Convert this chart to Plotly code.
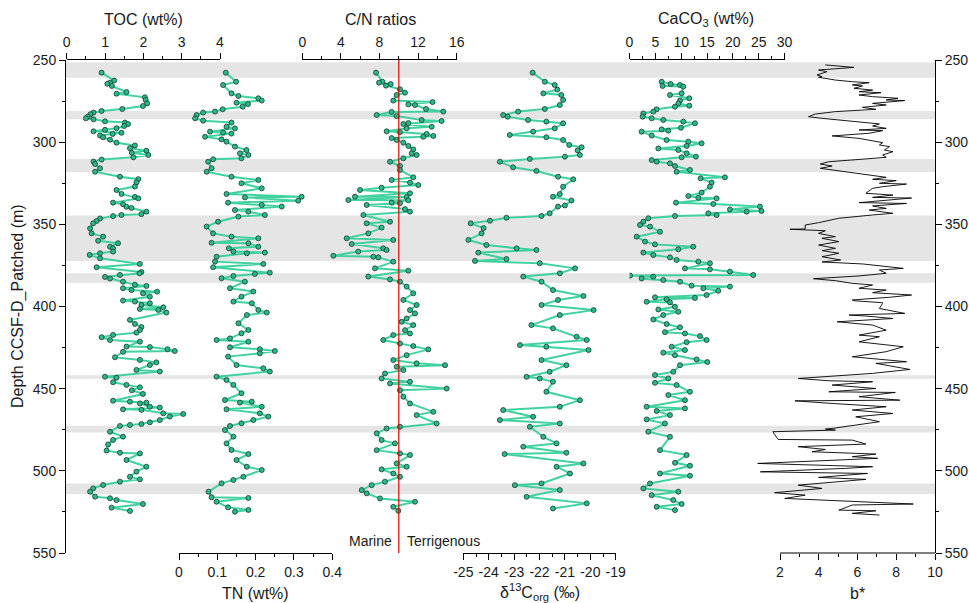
import numpy as np
import plotly.graph_objects as go

# ---------------- DATA ----------------
toc_depth = [257.7,262.5,263.8,264.5,265.8,269.5,270.5,272.7,274.3,276.4,278.0,279.8,281.0,282.0,283.0,284.5,285.5,286.1,287.3,288.1,289.0,290.2,291.5,292.5,293.4,294.3,295.0,296.0,297.0,298.5,300.3,302.0,303.7,305.2,306.5,307.8,309.2,310.6,311.8,313.3,315.9,318.0,321.0,322.5,324.5,327.0,329.1,331.5,333.3,334.2,336.8,337.8,339.3,340.0,342.3,343.8,344.3,345.0,346.4,348.0,349.4,352.5,355.5,357.5,360.0,361.5,363.6,364.6,366.6,367.6,368.6,370.7,374.1,376.1,379.0,379.8,380.8,382.0,383.0,384.9,386.7,387.5,388.9,390.0,391.0,392.0,394.0,396.4,397.0,398.0,399.1,400.5,401.5,402.1,403.7,408.2,410.6,412.5,414.3,415.9,417.3,418.7,420.4,421.4,424.4,424.7,426.0,427.1,427.6,430.9,432.5,434.0,435.6,438.6,439.6,442.7,443.3,446.1,447.7,449.2,451.0,453.2,457.3,457.9,458.5,459.0,461.0,461.5,462.6,462.9,465.0,465.4,467.0,469.1,470.5,471.5,472.1,472.7,476.2,479.2,481.2,483.9,487.7,489.0,489.4,493.4,497.5,500.5,503.6,505.2,506.6,508.6,510.7,512.7,515.7,516.7,517.8,520.2,522.4,524.4]
toc = [0.91,1.24,1.13,1.06,1.18,1.56,1.30,2.04,2.06,2.10,1.99,1.45,0.91,0.70,0.62,0.55,0.50,0.70,1.00,1.52,1.60,1.50,1.30,1.00,0.70,1.43,1.20,0.87,0.95,1.13,1.30,1.78,1.65,2.08,1.70,2.13,1.74,0.91,0.70,0.74,0.87,0.74,1.39,1.87,1.82,1.78,1.30,1.43,1.78,1.87,1.21,1.47,1.56,1.69,2.08,1.95,1.43,1.21,0.87,0.78,0.69,0.61,0.65,0.95,0.82,1.34,1.13,1.21,1.21,0.87,0.60,0.87,1.91,0.78,1.95,1.90,1.39,1.00,1.13,1.47,1.78,2.08,1.47,1.69,2.36,1.99,2.17,1.47,1.78,2.17,1.95,2.52,1.91,2.39,2.60,1.65,1.78,1.95,1.91,1.82,1.21,0.91,1.13,1.91,1.56,2.17,2.63,2.82,1.47,1.26,1.91,2.34,2.17,1.82,2.43,1.00,1.30,1.21,1.56,1.91,1.70,1.99,1.21,1.65,2.08,1.91,2.17,2.43,1.47,1.95,2.52,3.04,2.69,2.43,2.17,1.95,1.65,1.39,1.13,1.47,1.21,1.08,1.04,1.39,1.91,1.56,2.08,1.82,1.65,1.91,1.39,0.95,0.69,0.61,0.74,1.13,1.30,1.99,1.17,1.65]

tn_depth = [257.7,263.2,265.2,270.3,271.9,273.3,274.7,276.0,276.8,278.4,280.0,281.4,282.0,283.5,285.5,286.9,288.1,290.6,291.6,293.6,294.2,294.8,296.7,298.3,299.7,302.7,304.8,306.8,307.8,309.8,310.4,311.9,315.9,318.0,321.0,323.0,325.0,328.1,331.5,333.2,333.6,335.6,336.8,338.2,339.2,341.3,342.3,344.3,345.3,348.4,351.4,355.5,357.5,358.5,361.2,361.5,363.6,364.6,366.6,367.2,367.6,369.7,372.7,374.1,376.1,379.4,380.2,381.4,382.8,384.9,388.9,390.9,394.0,397.0,398.0,402.1,403.7,405.2,410.2,414.3,416.3,419.4,420.4,421.4,424.8,426.0,427.1,428.5,430.5,435.6,437.6,439.6,442.7,444.7,447.7,452.8,456.9,457.9,458.5,461.0,462.6,465.0,467.0,469.1,471.1,472.7,475.2,479.2,483.3,487.3,489.8,493.4,497.5,499.5,503.6,505.6,507.6,512.7,516.1,516.5,518.8,522.2,523.8,524.9]
tn = [0.122,0.149,0.115,0.137,0.155,0.207,0.216,0.150,0.180,0.166,0.114,0.094,0.063,0.046,0.042,0.063,0.137,0.124,0.146,0.081,0.115,0.137,0.068,0.111,0.124,0.146,0.176,0.159,0.181,0.163,0.089,0.076,0.085,0.072,0.137,0.207,0.163,0.216,0.124,0.320,0.172,0.311,0.128,0.216,0.268,0.146,0.181,0.224,0.155,0.102,0.072,0.089,0.137,0.207,0.085,0.181,0.207,0.130,0.142,0.224,0.177,0.098,0.094,0.220,0.089,0.237,0.198,0.142,0.111,0.172,0.133,0.194,0.163,0.142,0.190,0.207,0.229,0.177,0.155,0.181,0.163,0.133,0.098,0.181,0.133,0.211,0.250,0.211,0.128,0.150,0.220,0.237,0.098,0.124,0.142,0.163,0.120,0.190,0.159,0.216,0.124,0.211,0.233,0.194,0.163,0.133,0.120,0.142,0.124,0.137,0.181,0.150,0.177,0.216,0.168,0.142,0.111,0.077,0.085,0.181,0.098,0.128,0.181,0.146]

cn_depth = [257.7,263.2,263.8,264.6,265.6,267.8,269.9,271.3,274.7,275.6,277.0,277.4,279.8,281.4,281.6,283.5,284.1,286.5,287.1,288.4,288.9,290.6,291.6,293.4,293.9,295.0,296.2,296.7,297.5,298.7,300.3,302.3,304.4,306.8,307.8,309.8,311.9,314.5,316.9,321.4,323.0,324.6,326.1,327.7,329.1,331.1,333.2,333.4,335.2,335.4,336.8,337.2,338.2,340.7,342.3,344.3,348.4,349.4,352.0,355.5,358.5,359.5,362.0,364.6,365.6,366.6,369.1,369.7,370.1,372.7,376.8,378.2,381.8,383.5,384.9,387.9,392.0,396.0,399.1,402.2,404.2,407.3,409.3,411.3,414.4,416.4,417.4,420.4,422.5,424.1,426.1,429.6,432.6,434.6,435.7,436.7,438.7,440.7,443.8,445.8,446.8,449.9,450.9,454.9,459.0,464.1,466.1,471.2,473.2,474.2,477.2,481.3,483.3,487.4,489.4,490.4,495.5,497.5,499.1,501.6,503.6,506.6,508.7,511.7,513.7,516.8,518.8,521.9,524.3]
cn = [7.64,8.30,7.95,9.16,8.67,10.12,10.64,9.78,9.43,13.50,10.99,11.68,12.82,14.61,9.26,7.71,9.78,12.37,14.44,10.99,10.47,13.41,10.81,8.74,10.12,12.89,13.58,12.54,9.26,9.78,10.47,10.99,11.50,11.33,11.85,10.47,9.09,10.12,10.12,11.50,9.26,11.16,12.02,8.22,5.98,11.16,5.46,10.81,4.77,10.99,9.26,10.12,6.67,10.64,11.16,6.33,9.09,6.67,8.22,6.84,4.60,9.43,5.12,8.39,8.74,5.80,3.22,7.36,7.88,9.43,7.53,10.99,6.84,9.09,10.12,10.81,11.50,10.47,11.85,11.16,11.68,10.81,10.30,11.50,10.64,11.16,9.43,8.39,10.12,11.50,13.06,10.81,9.43,11.85,14.79,9.78,10.47,8.57,8.22,11.16,9.09,14.96,10.12,10.47,11.16,13.58,11.85,13.92,10.12,8.74,7.71,8.22,9.60,7.71,10.12,11.16,9.78,10.81,8.22,9.43,10.12,8.57,7.19,6.16,6.67,8.05,11.68,9.43,9.95]

d13c_depth = [257.7,263.2,265.2,268.0,270.3,271.3,274.3,277.4,279.8,281.4,283.5,284.5,286.5,287.5,288.5,291.6,293.6,295.6,297.0,298.7,301.7,303.1,305.0,307.8,308.8,310.2,311.9,315.3,317.5,321.0,322.6,327.1,331.6,333.2,335.5,338.5,339.2,343.3,344.9,346.0,347.8,349.4,352.3,355.5,359.5,362.6,364.6,365.6,367.2,371.1,372.3,373.7,376.8,379.8,381.8,384.9,390.0,393.6,396.0,399.1,402.2,405.2,411.3,413.3,418.4,420.4,423.5,424.5,426.5,432.6,435.7,439.7,442.8,443.8,445.8,451.9,457.0,461.0,463.0,467.1,469.1,471.2,473.2,479.3,483.3,485.3,489.0,489.8,495.5,497.5,501.6,507.7,508.7,511.7,515.8,519.8,522.9]
d13c = [-22.27,-21.79,-21.40,-21.30,-21.85,-21.14,-21.07,-21.20,-21.79,-22.84,-23.43,-23.25,-22.45,-21.73,-21.07,-21.40,-22.25,-23.17,-21.73,-21.07,-20.83,-20.34,-20.50,-20.41,-21.00,-22.38,-23.56,-23.04,-22.12,-21.27,-20.67,-21.07,-21.20,-21.47,-20.74,-21.00,-21.27,-21.60,-21.92,-23.30,-23.95,-24.71,-24.20,-24.28,-24.80,-24.09,-22.90,-22.12,-24.41,-23.30,-24.54,-21.99,-20.60,-21.20,-22.64,-21.92,-21.47,-20.27,-21.27,-21.92,-19.87,-21.20,-22.32,-21.47,-20.54,-20.14,-22.77,-21.73,-20.07,-21.92,-20.94,-21.60,-22.51,-21.99,-21.47,-21.73,-20.41,-21.20,-23.43,-22.25,-23.56,-21.20,-22.38,-21.85,-21.33,-22.64,-20.94,-23.37,-20.27,-21.33,-20.80,-21.92,-22.97,-21.20,-22.51,-20.14,-21.47]

caco3_depth = [263.2,264.6,265.2,265.8,266.2,270.3,271.3,273.3,274.7,276.4,277.8,278.4,280.0,281.4,282.5,284.5,285.5,286.5,287.5,288.5,291.2,292.2,293.0,293.6,296.0,298.7,299.7,300.7,302.3,303.8,304.8,306.8,308.8,309.2,310.9,311.9,312.9,314.5,316.9,318.0,321.4,322.0,324.6,327.1,330.7,332.8,333.8,334.2,336.8,337.6,339.2,340.9,341.9,342.3,343.3,344.3,344.9,346.3,348.4,350.4,351.4,354.5,357.5,360.5,362.2,363.6,365.2,367.2,368.7,370.1,371.7,372.7,373.7,376.8,377.4,378.8,380.8,381.2,381.8,382.9,383.9,384.9,387.3,387.9,388.9,390.4,393.0,394.4,394.8,395.6,397.1,397.5,400.2,401.8,403.2,405.2,407.9,410.7,412.7,415.6,416.4,418.0,420.4,421.7,424.5,426.5,428.1,429.6,432.2,433.8,435.7,439.7,441.7,443.8,446.4,447.8,451.9,453.9,457.0,461.0,462.0,463.6,466.1,468.7,471.2,476.2,479.3,487.4,490.4,495.1,496.9,501.6,503.0,507.7,510.7,512.7,514.8,517.8,520.2,521.9,523.9]
caco3 = [6.22,7.96,9.77,6.41,10.41,10.09,7.83,11.57,9.77,9.45,11.57,8.80,5.25,4.61,2.68,2.55,4.29,6.54,10.41,12.67,9.96,6.22,7.51,2.35,4.29,7.19,11.38,13.96,11.06,5.58,9.45,11.06,12.86,10.09,4.29,5.25,7.83,8.80,11.70,9.12,18.47,13.77,15.89,15.57,13.96,11.38,13.32,16.86,8.99,16.22,25.24,19.44,25.56,22.66,15.25,16.86,8.80,3.64,2.68,2.03,3.96,5.90,1.39,3.00,4.93,12.34,9.45,2.68,4.61,7.83,9.12,13.32,15.57,10.73,15.57,19.44,23.95,0.10,4.61,2.35,6.54,9.77,12.02,19.44,14.29,17.18,14.93,4.93,12.67,7.19,3.32,7.83,8.80,5.58,9.45,6.54,4.61,7.19,9.77,6.86,10.73,13.64,14.93,11.06,8.16,10.73,6.54,8.80,12.99,15.06,9.77,8.48,4.93,7.51,4.93,9.12,11.70,7.51,10.73,3.32,10.73,5.25,7.83,3.32,6.86,3.64,7.83,5.90,11.06,8.80,11.70,5.90,11.70,3.96,2.68,9.45,4.29,8.48,10.09,5.25,8.80]

bstar_depth = [253.0,254.5,256.1,257.1,259.1,260.1,260.5,262.2,263.2,263.8,265.2,265.8,267.2,268.3,269.3,269.9,271.3,272.3,273.3,274.3,274.7,276.4,277.4,278.8,280.0,281.4,282.9,284.5,285.5,287.5,288.9,290.2,291.6,292.6,293.0,294.6,296.2,297.7,300.3,301.7,302.7,304.8,305.8,307.8,309.2,310.2,310.9,311.9,313.3,314.5,315.9,316.9,318.4,319.6,321.4,322.6,323.4,325.0,325.5,327.1,328.1,331.1,332.2,333.6,334.0,336.8,337.3,338.8,340.3,341.3,343.3,344.3,346.3,349.0,350.4,352.8,353.0,353.9,355.5,357.5,358.5,360.5,362.6,364.6,366.0,367.6,369.7,371.7,372.9,374.1,376.8,377.8,379.8,381.4,383.1,384.3,385.9,386.9,388.9,390.0,391.6,393.0,394.4,396.0,396.5,397.7,398.1,401.2,404.2,405.2,405.8,407.3,409.3,411.3,414.4,417.4,418.4,421.5,424.5,427.5,430.6,433.6,434.6,438.3,440.7,443.8,445.2,445.8,447.8,449.9,451.9,452.3,454.9,457.0,457.4,459.0,461.0,463.0,465.1,467.1,470.1,474.2,474.6,475.2,476.2,480.9,481.3,483.7,485.3,487.0,488.4,489.8,491.4,492.4,495.5,497.5,498.5,500.6,501.6,504.0,505.2,508.7,510.7,513.3,514.8,516.8,520.2,520.8,523.9,524.3,525.9,526.9]
bstar = [4.34,5.82,3.99,4.43,3.91,4.17,3.99,4.86,5.73,6.60,5.73,6.26,5.82,6.78,6.08,7.21,6.08,6.78,8.09,7.48,8.44,6.78,7.48,6.26,6.95,4.86,3.82,3.47,4.17,5.73,7.13,6.78,7.48,6.08,7.30,6.60,4.69,6.08,7.30,7.13,7.65,7.39,7.83,7.30,7.48,6.43,5.39,4.52,4.08,4.69,4.08,4.69,5.56,6.43,7.48,6.78,8.00,7.13,8.53,7.30,6.78,6.43,7.83,6.78,8.79,6.08,8.53,6.78,7.48,6.60,7.83,6.78,5.04,3.99,3.30,3.30,2.51,4.34,3.99,4.86,4.17,5.04,3.99,4.86,4.17,5.04,4.17,5.13,4.17,6.26,8.36,7.13,7.48,6.08,3.73,4.86,5.73,6.78,6.08,7.48,6.78,8.79,7.65,5.73,5.82,7.30,7.30,7.13,8.44,5.56,6.43,7.83,4.95,6.78,7.48,6.08,7.13,6.08,8.36,7.48,5.73,8.53,6.95,8.70,6.78,2.94,4.52,6.78,4.69,6.95,4.52,7.95,6.08,8.18,2.77,4.69,7.48,5.73,7.83,5.91,7.13,4.69,4.34,4.86,1.63,1.90,5.73,6.43,2.94,4.34,3.65,6.95,5.73,7.04,0.85,6.78,5.39,0.99,6.52,3.99,6.43,2.94,4.17,1.72,3.30,2.25,8.88,5.73,5.04,6.95,5.73,7.13]

band_tops = [251.4, 281.0, 310.3, 344.7, 379.8, 441.9, 472.6, 507.7]
band_bottoms = [260.8, 286.0, 318.2, 372.3, 385.5, 444.0, 476.6, 514.2]

toc_ticks = [0, 1, 2, 3, 4]
tn_ticks = [0, 0.1, 0.2, 0.3, 0.4]
tn_labels = ["0", "0.1", "0.2", "0.3", "0.4"]
cn_ticks = [0, 4, 8, 12, 16]
d13c_ticks = [-25, -24, -23, -22, -21, -20, -19]
d13c_labels = ["-25", "-24", "-23", "-22", "-21", "-20", "-19"]
caco3_ticks = [0, 5, 10, 15, 20, 25, 30]
bstar_ticks = [2, 4, 6, 8, 10]
depth_ticks = [250, 300, 350, 400, 450, 500, 550]

# ---------------- LAYOUT HELPERS ----------------
L, R, T, B = 65, 935, 60, 553
W, H = R - L, B - T
def px(x):
    return (x - L) / W
def py(y):
    return (B - y) / H

FONT = "Liberation Sans, Arial, Helvetica, sans-serif"
TXT = "#1a1a1a"
TICK_SIZE = 14
TITLE_SIZE = 16

def srt(d, v):
    idx = np.argsort(d, kind="stable")
    return list(np.asarray(d)[idx]), list(np.asarray(v)[idx])

fig = go.Figure()

for a, b in zip(band_tops, band_bottoms):
    fig.add_shape(type="rect", xref="paper", yref="y", x0=0.001, x1=1, y0=a, y1=b,
                  fillcolor="#e5e5e5", line_width=0, layer="below")

geo_line = dict(color="rgba(45,205,150,0.9)", width=2)
geo_marker = dict(symbol="circle", size=5, color="#2bb98a",
                  line=dict(color="#163a2d", width=0.8))

series = [
    (toc_depth, toc, "x"),
    (tn_depth, tn, "x2"),
    (cn_depth, cn, "x3"),
    (d13c_depth, d13c, "x4"),
    (caco3_depth, caco3, "x5"),
]
for d, v, xa in series:
    dd, vv = srt(d, v)
    fig.add_trace(go.Scatter(x=vv, y=dd, xaxis=xa, yaxis="y", mode="lines+markers",
                             line=geo_line, marker=geo_marker, showlegend=False,
                             hoverinfo="skip"))

bd, bv = srt(bstar_depth, bstar)
fig.add_trace(go.Scatter(x=bv, y=bd, xaxis="x6", yaxis="y", mode="lines",
                         line=dict(color="black", width=0.9), showlegend=False,
                         hoverinfo="skip"))
# anchor trace for the right depth axis
fig.add_trace(go.Scatter(x=[6], y=[400], xaxis="x6", yaxis="y2", mode="markers",
                         marker=dict(opacity=0), showlegend=False, hoverinfo="skip"))

def xax(dom, rng, side, tickvals, ticktext, minor_dtick, showline=True, minor_vals=None):
    ax = dict(domain=[px(dom[0]), px(dom[1])], range=rng, side=side, anchor="y",
              automargin=False,
              showgrid=False, zeroline=False, showline=showline, linecolor="black",
              linewidth=1, ticks="outside", ticklen=6, tickwidth=1, tickcolor="black",
              tickmode="array", tickvals=tickvals, ticktext=ticktext,
              tickfont=dict(family=FONT, size=TICK_SIZE, color=TXT), fixedrange=True)
    if minor_vals is not None:
        ax["minor"] = dict(ticks="outside", ticklen=3, tickcolor="black", tickwidth=1,
                           tickmode="array", tickvals=minor_vals)
    else:
        ax["minor"] = dict(ticks="outside", ticklen=3, tickcolor="black", tickwidth=1,
                           dtick=minor_dtick, tick0=rng[0])
    return ax

yax = dict(domain=[0, 1], range=[550, 250], showgrid=False, zeroline=False,
           automargin=False,
           showline=True, linecolor="black", linewidth=1, ticks="outside", ticklen=6,
           tickcolor="black", tickvals=depth_ticks,
           tickfont=dict(family=FONT, size=TICK_SIZE, color=TXT),
           minor=dict(ticks="outside", ticklen=3, tickcolor="black", dtick=25, tick0=250),
           fixedrange=True)

fig.update_layout(
    width=969, height=603,
    margin=dict(l=L, r=969 - R, t=T, b=603 - B, autoexpand=False),
    paper_bgcolor="white", plot_bgcolor="rgba(0,0,0,0)",
    font=dict(family=FONT, size=TICK_SIZE, color=TXT),
    showlegend=False,
    xaxis=xax((66.7, 220), [0, 4], "top", toc_ticks, [str(t) for t in toc_ticks], 0.5),
    xaxis2=xax((179, 332.3), [0, 0.4], "bottom", tn_ticks, tn_labels, 0.05),
    xaxis3=xax((302.3, 456.7), [0, 16], "top", cn_ticks, [str(t) for t in cn_ticks], 2),
    xaxis4=xax((463.3, 615.7), [-25, -19], "bottom", d13c_ticks, d13c_labels, 0.5),
    xaxis5=xax((629.5, 784.5), [0, 30], "top", caco3_ticks, [str(t) for t in caco3_ticks], 2.5),
    xaxis6=xax((780 - 1.3 * 155 / 8, 935), [0.7, 10], "bottom", bstar_ticks,
               [str(t) for t in bstar_ticks], 1, showline=False, minor_vals=[3, 5, 7, 9]),
    yaxis=dict(yax, anchor="free", position=0, side="left"),
    yaxis2=dict(yax, anchor="free", position=1, side="right", overlaying="y"),
)

# b* axis line only from 2 to 10
fig.add_shape(type="line", xref="x6", yref="paper", x0=2, x1=10, y0=0, y1=0,
              line=dict(color="black", width=1))
# C/N = 10 boundary line
fig.add_shape(type="line", xref="x3", yref="paper", x0=10, x1=10, y0=0, y1=1,
              line=dict(color="#dd0000", width=1.2))

def ann(text, x, y, size=TITLE_SIZE, xanchor="center", angle=0):
    fig.add_annotation(text=text, xref="paper", yref="paper", x=px(x), y=py(y),
                       xanchor=xanchor, yanchor="middle", showarrow=False,
                       textangle=angle, font=dict(family=FONT, size=size, color=TXT))

ann("TOC (wt%)", 143, 19)
ann("C/N ratios", 380, 19)
ann("CaCO<sub>3</sub> (wt%)", 706, 19)
ann("TN (wt%)", 255, 593)
ann("δ<sup>13</sup>C<sub>org</sub> (‰)", 540, 592)
ann("b*", 857, 593)
ann("Depth CCSF-D_Patched (m)", 18, 306, angle=-90)
ann("Marine", 394, 541, size=14, xanchor="right")
ann("Terrigenous", 405, 541, size=14, xanchor="left")

fig.write_html("out.html", config={"displayModeBar": False},
               post_script="document.body.style.margin='0';document.body.style.overflow='hidden';")
